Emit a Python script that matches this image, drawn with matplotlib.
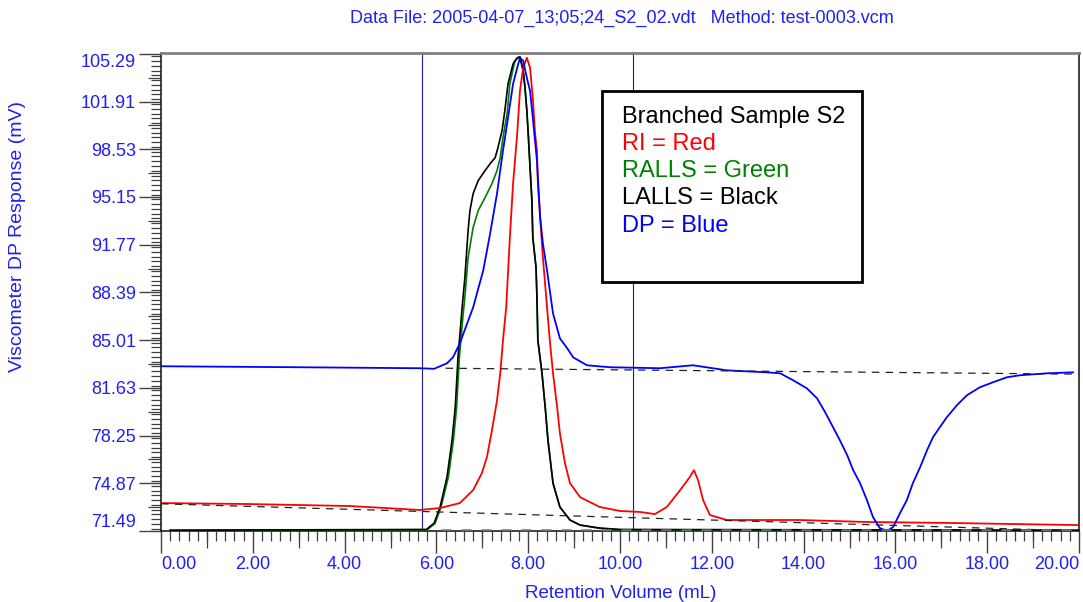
import numpy as np
import matplotlib
matplotlib.use('Agg')
import matplotlib.pyplot as plt
from matplotlib.patches import Rectangle
from matplotlib.ticker import MultipleLocator, FixedLocator

plt.rcParams['font.family'] = ['Liberation Sans', 'DejaVu Sans']

# traces: retention volume (mL) vs response (mV)
ri_x = [0.0, 1.94, 4.12, 5.64, 6.08, 6.51, 6.80, 6.99, 7.10, 7.21, 7.32, 7.39, 7.45, 7.52,
        7.60, 7.67, 7.76, 7.82, 7.89, 7.97, 8.04, 8.10, 8.15, 8.19, 8.21, 8.26, 8.32, 8.41,
        8.47, 8.54, 8.63, 8.69, 8.80, 8.91, 9.13, 9.56, 10.0, 10.44, 10.76, 11.02, 11.31,
        11.52, 11.61, 11.70, 11.81, 11.96, 12.33, 13.92, 15.38, 17.19, 20.0]
ri_y = [73.47, 73.40, 73.26, 72.98, 73.12, 73.47, 74.39, 75.59, 76.72, 78.63, 80.75, 82.66,
        85.00, 87.33, 92.28, 96.10, 99.63, 102.67, 104.30, 105.01, 104.30, 102.18, 99.63,
        98.43, 96.10, 93.69, 90.86, 87.33, 85.00, 82.66, 80.26, 78.42, 76.30, 74.88, 73.89,
        73.19, 72.91, 72.84, 72.69, 73.19, 74.39, 75.31, 75.80, 75.10, 73.68, 72.62, 72.27,
        72.27, 72.13, 72.06, 71.91]

lalls_x = [0.2, 5.78, 5.95, 6.08, 6.23, 6.34, 6.41, 6.47, 6.56, 6.62, 6.69, 6.73, 6.80, 6.91,
           7.06, 7.17, 7.28, 7.34, 7.43, 7.49, 7.56, 7.67, 7.76, 7.82, 7.89, 7.93, 7.97, 8.00,
           8.04, 8.08, 8.10, 8.17, 8.19, 8.21, 8.30, 8.37, 8.43, 8.54, 8.69, 8.91, 9.13, 9.56,
           10.0, 20.0]
lalls_y = [71.55, 71.60, 72.05, 73.19, 75.31, 77.92, 80.26, 83.79, 87.33, 89.45, 92.77, 94.19,
           95.39, 96.31, 97.02, 97.51, 97.94, 98.64, 99.85, 101.26, 103.17, 104.58, 105.01,
           105.08, 104.09, 102.89, 101.26, 99.63, 97.23, 94.90, 92.28, 90.16, 88.04, 85.00,
           82.66, 80.26, 77.92, 74.88, 73.19, 72.27, 71.91, 71.70, 71.60, 71.55]

ralls_x = [0.2, 5.80, 5.97, 6.10, 6.26, 6.37, 6.44, 6.50, 6.58, 6.62, 6.69, 6.80, 6.91, 7.06,
           7.21, 7.32, 7.39, 7.45, 7.54, 7.60, 7.71, 7.78, 7.82, 7.89, 7.93, 7.97, 8.00, 8.04,
           8.08, 8.10, 8.17, 8.19, 8.21, 8.30, 8.37, 8.43, 8.54, 8.69, 8.91, 9.13, 9.56, 10.0,
           20.0]
ralls_y = [71.53, 71.58, 72.03, 73.19, 75.31, 77.92, 80.26, 83.79, 86.80, 88.04, 90.86, 92.99,
           94.19, 95.11, 96.10, 97.02, 97.94, 99.35, 101.05, 103.17, 104.80, 105.01, 105.05,
           104.09, 102.89, 101.26, 99.63, 97.23, 94.90, 92.28, 90.16, 88.04, 85.00, 82.66,
           80.26, 77.92, 74.88, 73.19, 72.27, 71.91, 71.68, 71.58, 71.53]

dp_x = [0.0, 3.03, 5.64, 5.95, 6.23, 6.36, 6.51, 6.67, 6.80, 7.02, 7.17, 7.32, 7.45, 7.56,
        7.67, 7.76, 7.82, 7.89, 7.97, 8.04, 8.10, 8.19, 8.26, 8.32, 8.41, 8.47, 8.54, 8.69,
        8.85, 8.98, 9.28, 9.78, 10.87, 11.59, 12.33, 13.20, 13.49, 13.77, 14.07, 14.29,
        14.47, 14.64, 14.79, 14.95, 15.08, 15.23, 15.38, 15.51, 15.66, 15.82, 15.95, 16.10,
        16.25, 16.38, 16.54, 16.69, 16.82, 16.97, 17.12, 17.34, 17.56, 17.84, 18.13, 18.43,
        18.71, 19.30, 19.87]
dp_y = [83.16, 83.09, 83.02, 82.98, 83.37, 83.79, 84.78, 86.20, 87.33, 89.95, 92.56, 95.39,
        98.43, 100.76, 103.17, 104.30, 105.01, 104.80, 103.59, 102.67, 100.76, 97.72, 93.69,
        91.85, 89.95, 88.53, 86.91, 85.14, 84.43, 83.79, 83.23, 83.09, 83.02, 83.23, 82.87,
        82.73, 82.66, 82.17, 81.60, 80.90, 79.90, 78.85, 77.92, 76.86, 75.80, 74.88, 73.68,
        72.49, 71.70, 71.50, 71.77, 72.76, 73.68, 74.88, 76.02, 77.22, 78.14, 78.85, 79.55,
        80.40, 81.11, 81.67, 82.03, 82.38, 82.52, 82.66, 82.73]

# integration baselines and peak limits
dp_base_x = [6.2, 20.0]
dp_base_y = [83.02, 82.60]
ri_base_x = [0.0, 20.0]
ri_base_y = [73.42, 71.50]
ls_base_x = [6.1, 20.0]
ls_base_y = [71.56, 71.56]
limits = [5.68, 10.28]

y_ticks = [71.49, 74.87, 78.25, 81.63, 85.01, 88.39, 91.77, 95.15, 98.53, 101.91, 105.29]
x_ticks = [0, 2, 4, 6, 8, 10, 12, 14, 16, 18, 20]

legend_lines = ['Branched Sample S2', 'RI = Red', 'RALLS = Green', 'LALLS = Black', 'DP = Blue']
legend_colors = ['black', '#ff0000', '#008000', 'black', '#0000ff']

blue_txt = '#2020f0'
tick_col = '#404040'

fig = plt.figure(figsize=(10.83, 6.02), dpi=100)
ax = fig.add_axes([0.1487, 0.1179, 0.8476, 0.7941])

for v in limits:
    ax.axvline(v, color='#1a1a90', lw=0.8, zorder=1)

ax.plot(ralls_x, ralls_y, color='#008000', lw=1.2, zorder=3)
ax.plot(lalls_x, lalls_y, color='black', lw=1.2, zorder=4)
ax.plot(ri_x, ri_y, color='#ff0000', lw=1.3, zorder=5)
ax.plot(dp_x, dp_y, color='#0000ff', lw=1.3, zorder=6)

ax.plot(dp_base_x, dp_base_y, color='#222222', lw=0.9, ls=(0, (6, 5)), zorder=7)
ax.plot(ri_base_x, ri_base_y, color='#222222', lw=0.9, ls=(0, (6, 5)), zorder=7)
ax.plot(ls_base_x, ls_base_y, color='#707070', lw=1.8, ls=(0, (4, 4)), zorder=7)

ax.set_xlim(0, 20)
ax.set_ylim(71.49, 105.35)

# tick layout: long major, short minor, medium ticks via secondary axes
ax.xaxis.set_major_locator(FixedLocator(x_ticks))
ax.xaxis.set_minor_locator(MultipleLocator(0.2))
ax.set_xticklabels(['%.2f' % t for t in x_ticks])
ax.yaxis.set_major_locator(FixedLocator(y_ticks))
ax.yaxis.set_minor_locator(MultipleLocator(0.338))
ax.set_yticklabels(['%.2f' % t for t in y_ticks])
ax.tick_params(which='major', length=16, width=1.0, color=tick_col, labelcolor=blue_txt,
               labelsize=13, pad=2)
ax.tick_params(which='minor', length=7.5, width=0.9, color=tick_col)

xl = ax.get_xticklabels()
xl[0].set_ha('left')
xl[-1].set_ha('right')
yl = ax.get_yticklabels()
yl[0].set_va('bottom')
yl[-1].set_va('top')

sx = ax.secondary_xaxis('bottom')
sx.set_xticks(list(range(1, 20, 2)))
sx.tick_params(length=12, width=0.9, color=tick_col, labelbottom=False)
sx.spines['bottom'].set_visible(False)
sy = ax.secondary_yaxis('left')
sy.set_yticks([t + 1.69 for t in y_ticks[:-1]])
sy.tick_params(length=9.5, width=0.9, color=tick_col, labelleft=False)
sy.spines['left'].set_visible(False)

for s in ['left', 'bottom', 'right']:
    ax.spines[s].set_color('#202020')
    ax.spines[s].set_linewidth(1.2)
ax.spines['top'].set_color('#808080')
ax.spines['top'].set_linewidth(2)

ax.add_patch(Rectangle((0.480, 0.521), 0.284, 0.400, transform=ax.transAxes,
                       facecolor='white', edgecolor='black', lw=2, zorder=10))
for i, (t, c) in enumerate(zip(legend_lines, legend_colors)):
    ax.text(0.502, 0.867 - i * 0.0571, t, color=c, fontsize=17, transform=ax.transAxes,
            va='center', ha='left', zorder=11)

fig.text(0.574, 0.970, 'Data File: 2005-04-07_13;05;24_S2_02.vdt   Method: test-0003.vcm',
         color=blue_txt, fontsize=13, ha='center', va='center')
fig.text(0.573, 1 - 593 / 602, 'Retention Volume (mL)', color=blue_txt, fontsize=13.5,
         ha='center', va='center')
fig.text(18 / 1083, 1 - 237 / 602, 'Viscometer DP Response (mV)', color=blue_txt,
         fontsize=14, rotation=90, ha='center', va='center')

fig.savefig('out.png', dpi=100)
